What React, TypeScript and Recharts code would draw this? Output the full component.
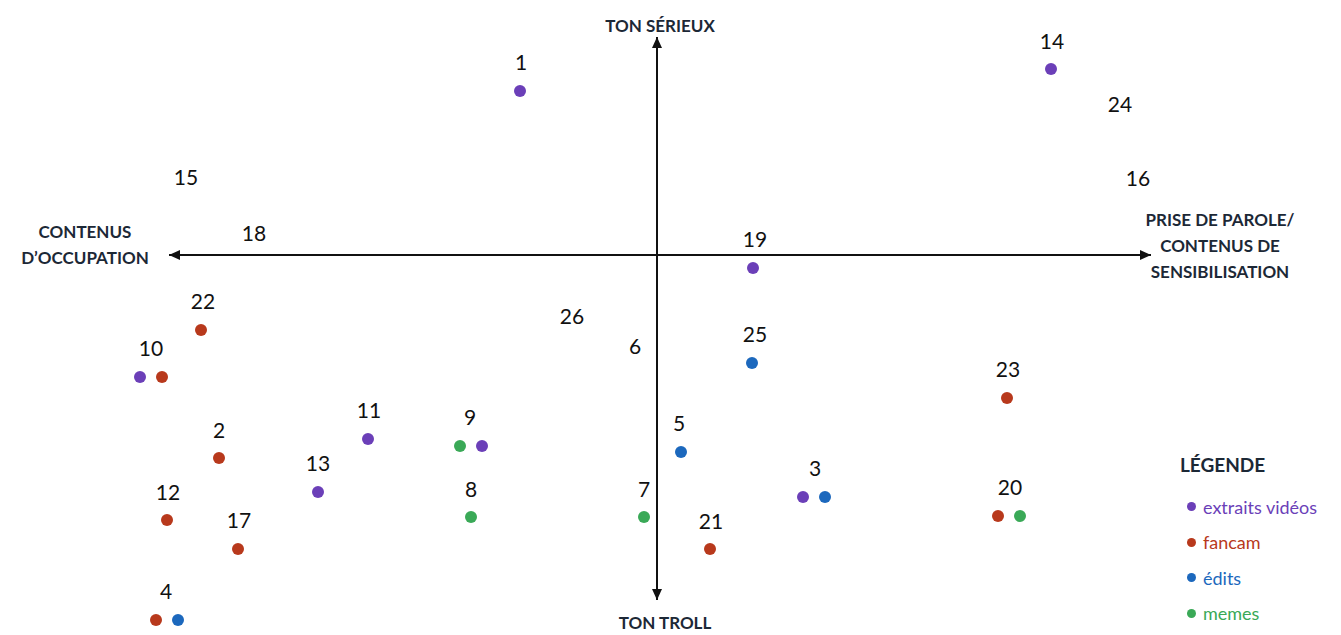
import React from "react"
import { ScatterChart, Scatter, XAxis, YAxis, ReferenceLine } from "recharts"

// positions are offsets from the crossing of the two axes (right = +x, up = +y)
const extraitsVideos = [
  { id: 1, x: -137, y: 164 },
  { id: 14, x: 394, y: 186 },
  { id: 19, x: 96, y: -13 },
  { id: 10, x: -517, y: -122 },
  { id: 11, x: -289, y: -184 },
  { id: 9, x: -175, y: -191 },
  { id: 13, x: -339, y: -237 },
  { id: 3, x: 146, y: -242 },
]
const fancam = [
  { id: 22, x: -456, y: -75 },
  { id: 10, x: -495, y: -122 },
  { id: 23, x: 350, y: -143 },
  { id: 2, x: -438, y: -203 },
  { id: 20, x: 341, y: -261 },
  { id: 12, x: -490, y: -265 },
  { id: 17, x: -419, y: -294 },
  { id: 21, x: 53, y: -294 },
  { id: 4, x: -501, y: -365 },
]
const edits = [
  { id: 25, x: 95, y: -108 },
  { id: 5, x: 24, y: -197 },
  { id: 3, x: 168, y: -242 },
  { id: 4, x: -479, y: -365 },
]
const memes = [
  { id: 9, x: -197, y: -191 },
  { id: 8, x: -186, y: -262 },
  { id: 7, x: -13, y: -262 },
  { id: 20, x: 363, y: -261 },
]
const numberLabels = [
  { label: "1", x: -136, y: 194 },
  { label: "14", x: 395, y: 215 },
  { label: "24", x: 463, y: 152 },
  { label: "15", x: -471, y: 79 },
  { label: "16", x: 481, y: 78 },
  { label: "18", x: -403, y: 23 },
  { label: "19", x: 98, y: 17 },
  { label: "22", x: -454, y: -45 },
  { label: "10", x: -506, y: -92 },
  { label: "26", x: -85, y: -60 },
  { label: "6", x: -22, y: -90 },
  { label: "25", x: 98, y: -78 },
  { label: "23", x: 351, y: -113 },
  { label: "11", x: -288, y: -154 },
  { label: "9", x: -187, y: -161 },
  { label: "2", x: -438, y: -174 },
  { label: "5", x: 22, y: -167 },
  { label: "13", x: -339, y: -207 },
  { label: "3", x: 158, y: -212 },
  { label: "8", x: -186, y: -233 },
  { label: "7", x: -13, y: -233 },
  { label: "20", x: 353, y: -231 },
  { label: "12", x: -489, y: -236 },
  { label: "17", x: -418, y: -264 },
  { label: "21", x: 54, y: -265 },
  { label: "4", x: -491, y: -335 },
]
const axisTitles = [
  { lines: ["TON SÉRIEUX"], x: 3, y: 230 },
  { lines: ["TON TROLL"], x: 8, y: -367 },
  { lines: ["CONTENUS", "D\u2019OCCUPATION"], x: -572, y: 24 },
  { lines: ["PRISE DE PAROLE/", "CONTENUS DE", "SENSIBILISATION"], x: 563, y: 36 },
]
const legendItems = [
  { name: "extraits vidéos", color: "#6b3fb8" },
  { name: "fancam", color: "#b8391c" },
  { name: "édits", color: "#1c68bd" },
  { name: "memes", color: "#3aa957" },
]

const INK = "#1c2836"
const FONT = "Lato, 'Open Sans', sans-serif"

const Dot = (color: string) => (props: any) => (
  <circle cx={props.cx} cy={props.cy} r={6} fill={color} />
)

const NumberText = (props: any) => (
  <text x={props.cx} y={props.cy} textAnchor="middle" dominantBaseline="central" fontSize={21} fontFamily={FONT} fill="#111">
    {props.payload.label}
  </text>
)

const TitleText = (props: any) => {
  const lines: string[] = props.payload.lines
  return (
    <text x={props.cx} textAnchor="middle" fontSize={17} fontWeight={700} fontFamily={FONT} fill={INK}>
      {lines.map((l, i) => (
        <tspan key={i} x={props.cx} y={props.cy + i * 26} dominantBaseline="central">
          {l}
        </tspan>
      ))}
    </text>
  )
}

const ArrowLine = (props: any) => {
  const { x1, y1, x2, y2 } = props
  const ang = Math.atan2(y2 - y1, x2 - x1)
  const head = (x: number, y: number, a: number) => {
    const l = 11
    const w = 5
    const bx = x - l * Math.cos(a)
    const by = y - l * Math.sin(a)
    const px = -Math.sin(a) * w
    const py = Math.cos(a) * w
    return `${x},${y} ${bx + px},${by + py} ${bx - px},${by - py}`
  }
  return (
    <g>
      <line x1={x1} y1={y1} x2={x2} y2={y2} stroke="#111" strokeWidth={2} />
      <polygon points={head(x2, y2, ang)} fill="#111" />
      <polygon points={head(x1, y1, ang + Math.PI)} fill="#111" />
    </g>
  )
}

const LegendBox = () => (
  <div style={{ position: "absolute", left: 1180, top: 453, fontFamily: FONT, color: INK }}>
    <div style={{ fontWeight: 700, fontSize: 19, height: 36 }}>LÉGENDE</div>
    {legendItems.map((it) => (
      <div key={it.name} style={{ display: "flex", alignItems: "center", height: 35.5, color: it.color, fontSize: 18 }}>
        <span style={{ width: 9, height: 9, borderRadius: 5, background: it.color, marginRight: 7, marginLeft: 7 }} />
        {it.name}
      </div>
    ))}
  </div>
)

export default function App() {
  return (
    <div style={{ position: "absolute", left: 0, top: 0, width: 1341, height: 635, background: "#fff" }}>
      <ScatterChart width={1341} height={635} margin={{ top: 0, right: 0, bottom: 0, left: 0 }}>
        <XAxis type="number" dataKey="x" domain={[-657, 684]} hide />
        <YAxis type="number" dataKey="y" domain={[-380, 255]} hide />
        <ReferenceLine segment={[{ x: -488, y: 0 }, { x: 494, y: 0 }]} shape={ArrowLine} />
        <ReferenceLine segment={[{ x: 0, y: -345 }, { x: 0, y: 218 }]} shape={ArrowLine} />
        <Scatter data={extraitsVideos} shape={Dot(legendItems[0].color)} isAnimationActive={false} />
        <Scatter data={fancam} shape={Dot(legendItems[1].color)} isAnimationActive={false} />
        <Scatter data={edits} shape={Dot(legendItems[2].color)} isAnimationActive={false} />
        <Scatter data={memes} shape={Dot(legendItems[3].color)} isAnimationActive={false} />
        <Scatter data={numberLabels} shape={NumberText} isAnimationActive={false} />
        <Scatter data={axisTitles} shape={TitleText} isAnimationActive={false} />
      </ScatterChart>
      <LegendBox />
    </div>
  )
}
